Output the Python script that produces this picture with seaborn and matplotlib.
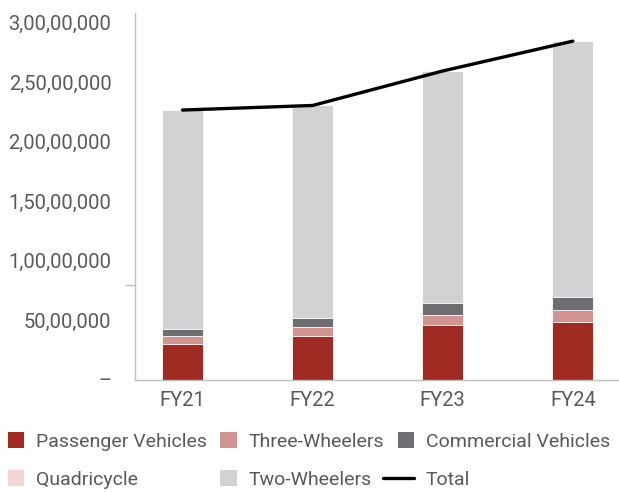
import numpy as np
import pandas as pd
import matplotlib
matplotlib.use("Agg")
import matplotlib.pyplot as plt
import seaborn as sns
from matplotlib.patches import Patch
from matplotlib.lines import Line2D
from matplotlib.legend_handler import HandlerBase

years = ["FY21", "FY22", "FY23", "FY24"]
passenger = [3062221, 3650698, 4578639, 4901840]
three_wheelers = [614613, 758088, 855696, 996159]
commercial = [624939, 805527, 1035626, 1067504]
quadricycle = [3836, 4061, 5058, 5006]
two_wheelers = [18349941, 17821111, 19458365, 21468527]
total = [22655610, 23039485, 25933384, 28439036]

series_names = ["Passenger Vehicles", "Three-Wheelers", "Commercial Vehicles",
                "Quadricycle", "Two-Wheelers"]
series_vals = [passenger, three_wheelers, commercial, quadricycle, two_wheelers]
colors = ["#9E2A22", "#D09591", "#6D6E71", "#F2D4D4", "#D1D2D4"]

sns.set_theme(style="white")
plt.rcParams["font.family"] = ["Roboto", "DejaVu Sans"]
text_col = "#595959"

fig = plt.figure(figsize=(6.19, 4.92), dpi=100)
ax = fig.add_axes([135 / 619, 112 / 492, 1 - 135 / 619, 367 / 492])

cum = np.zeros(len(years))
cums = []
for v in series_vals:
    cum = cum + np.array(v)
    cums.append(cum.copy())

# draw from tallest cumulative to shortest (overlap stacking)
for name, c, col in reversed(list(zip(series_names, cums, colors))):
    d = pd.DataFrame({"year": years, "value": c})
    sns.barplot(data=d, x="year", y="value", color=col, width=0.315,
                edgecolor="white", linewidth=0.6, saturation=1, ax=ax, zorder=2)

pos = np.arange(len(years))
sns.lineplot(x=pos, y=total, color="black", linewidth=2.4, ax=ax, zorder=3)

ax.set_xlim(-0.365, 3.355)
ax.set_ylim(0, 30.8e6)
ax.set_xlabel("")
ax.set_ylabel("")

yt = [0, 5e6, 10e6, 15e6, 20e6, 25e6, 30e6]
ylabels = ["–", "50,00,000", "1,00,00,000", "1,50,00,000", "2,00,00,000",
           "2,50,00,000", "3,00,00,000"]
ax.set_yticks(yt)
ax.set_yticklabels(ylabels)
ax.set_yticks([0, 8e6], minor=True)
ax.tick_params(axis="y", which="major", length=0, pad=17, labelsize=14.5, labelcolor=text_col)
ax.tick_params(axis="y", which="minor", length=7, width=1, color="#BFBFBF", left=True)
ax.tick_params(axis="x", length=0, pad=8, labelsize=14.5, labelcolor=text_col)

for s in ["top", "right"]:
    ax.spines[s].set_visible(False)
for s in ["left", "bottom"]:
    ax.spines[s].set_color("#BFBFBF")
    ax.spines[s].set_linewidth(1)


class LongLineHandler(HandlerBase):
    def create_artists(self, legend, orig_handle, xdescent, ydescent,
                       width, height, fontsize, trans):
        y = height / 2 - ydescent
        ext = 0.75 * fontsize
        line = Line2D([-xdescent - ext, -xdescent + width], [y, y],
                      color=orig_handle.get_color(),
                      linewidth=orig_handle.get_linewidth(), transform=trans)
        return [line]


handles = [Patch(facecolor=c, edgecolor="none") for c in colors]
total_handle = Line2D([0], [0], color="black", linewidth=2.4)
handles.append(total_handle)
labels = series_names + ["Total"]
order = [0, 3, 1, 4, 2, 5]
leg = fig.legend([handles[i] for i in order], [labels[i] for i in order],
                 loc="upper left", bbox_to_anchor=(0.006, 0.129), ncol=3,
                 frameon=False, fontsize=14,
                 handlelength=0.85, handleheight=0.85,
                 handletextpad=0.6, columnspacing=0.7, labelspacing=1.0,
                 borderaxespad=0, borderpad=0.2,
                 handler_map={total_handle: LongLineHandler()})
for t in leg.get_texts():
    t.set_color(text_col)

fig.savefig("out.png", dpi=100)
